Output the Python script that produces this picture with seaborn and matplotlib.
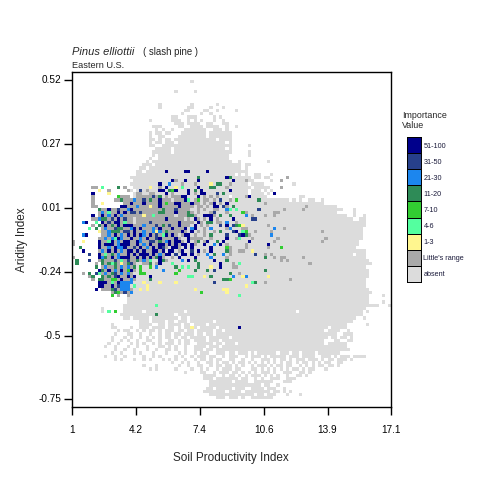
import numpy as np
import seaborn as sns
from matplotlib import pyplot as plt
from matplotlib.colors import ListedColormap

# importance value class of every soil productivity / aridity bin, top row first
# . = no data, a = absent, L = Little's range, 1..7 = importance classes
grid_rows = [
".......... .......... .......... .......a",
"",
"",
".......... .......... .......... ..a..... a",
"",
"",
"",
".......... .......... .......a.. .......a.. .....a",
".......... .......... .......a.. ......aa.. ...a...a",
".......... .......... .......... .....aa... .aa..a.... .a",
".......... .......... .......... ....a..... a..a",
".......... .......... .......... .aa...aaa. ....a.a.",
".......... .......... ....a..... .aaa..a.a. a...a..a",
".......... .......... .......... ..aaa.aaaa ..aa...aa",
".......... .......... .....aaa.. ...aa..aaa a.aaaa..a. .a",
".......... .......... ......a.a. .a...aaaaa aa..aaa.a",
".......... .......... ....a.aa.a a...aaaaaa aa.aaaaaaa",
".......... .......... ....a..aa. ...aaaaaaa aa.aaaaaaa",
".......... .......... ....aa.a.a a.aaaaaaaa aaaaa.aaaa",
".......... .......... ....a.aa.a aa.aaaaaaa aaaaaaaa.a",
".......... .......... ....aa..aa aaaaaaaaaa aaaaaaaaaa .....a",
".......... .......... ......aaaa a.aaaaaaaa aaaaaaaa.a",
".......... .......... .....aaaaa a.aaaaaaaa aaaaaaaaaa .....a",
".......... .......... .....a.aaa aaaaaaaaaa aaaaaaaaa. .....a",
".......... .......... ....a..aaa aaaaaaaaaa aaaaaaaaa",
".......... .......... ...a.aaaaa aaaaaaaaaa aaaaaaaaaa ..a....... .a",
".......... .......... ..aaa.aaaa aaaaaaaaaa aaaaaaaaaa aaa.aa....",
".......... .......... .aa.aaaaaa aaaaaaaaaa aaaaaaaaaa aaa.a",
".......... .......... aa.aaaaaa7 aaaaa77aaa aa7aaaaaaa aaaaa",
".......... .......... aaaaaaaaaa aaaaaaaaaa aaaaaaaaaa a.a.a..aa. ..a",
".......... ........aa aaaaaaaaaa aaaaaaaaa4 aaaaaaaa74 aaaaaa.aa. aa.....L",
".......... .........a aaaaaaaaaa a7Laa7aaa7 aaaaaaaaaa 7aaaLaa... ..a..L",
".......... ........aa aaaaaaa7aa 5aaaLaaaLa aaa1a44aaL aaaaa.aaaa .........a",
"......LL.2 ....4.L..a aaaa1aaLa7 aa1a2aaaa7 aaa44aaaLa aaaaaa.aaa aa...L",
"........1. .L.....La. a6aLaaa77a 437aaa7a4a 7aaaaaaaa7 aaaaa.aaa. a.a",
"......7... .1.......a LLaaLLaaa7 aLaaaa7aLa 77aaa6a4aa aaaaa.aaaa .a.7",
"......L... ....3LLL.a LLLLL6L4aL aLLL77aaa7 aLaLaLaaa. aaaaL7aaaa a......... .aa",
"......L... ...LL4LLL5 LL6L4LL7LL LaLLL72aL3 aLLaLa6aaL a3aaaaaa4a aaaaaaaa.a .a..aa..a",
"......L..1 ......LL7L LL7LLLL7L3 LL77LLL7LL aLaL7aLa7a aaaaaaaaaa Laaaaaaaaa aaaaaaaaa",
"......LL.. .....77LLL 5LLL1LL7LL LLL7LLLLaL LaLa77a6La 4aaaaaaaaa aaaaaaaaaa aaaLaaaaaa aaa",
"........4L L7LL6LL57L LLLLLLLL4L LL6LLLLaaL aLaaLLaa52 a2aaaaaa6a aaaaaaLaaa aaLaaaaaaa aaaaa...a.",
"........L5 L2LL7L7L66 L6LLLLL44L LL7LLL4LaL aaaL6aaaLa aaa3Laaaaa aaaLLaaaaa aaaaaaaaaa aaa.....a",
"......7.L7 L5L7L5LLLL LL1LL2LLLL LLaLLL44La a777La4aa4 aaaa5aLaaa LaaLaaaaaa aaaaaaaaaa aaaaaa..a. .a",
"......LL54 4L6L7L6LLa LLLLLLLLL7 LLLLLaLa7L aLa7aLaaaa 7aaaaa66aa aaaaaaaaaa aaaaaaaaaa aaaaaaaa.. aa",
"...57..2.7 L6L77L2LLa LLLL6LLLLL LLL7LLLLa7 La44aLLa5a aLaaaaaaaa aaaaaaaaaa aaaaaaaaaa aaaaaaaaaa aa",
"......L.4L 7L4L7L777L LL5LLL6L4L 6LL7LLLa7a LaLaaa6a7a 6431aaaaaa aLaaaaaaaa aaaaaaaaaa aaaaaaaaaa aa",
".....2.4.L 5LL644LL57 L7LLL5L7LL L7LLL7a57a aLa5aaaaL5 aaaLLaaaaa aaa5aaLaaa aaaaaaaaaa aaaaaaaaaa a",
"........1L L5444L66L7 LL5LL515L4 LLLL7La7aL aLaaLa4aaa 67a23aaLaa aaLaaaaaaa aaaaaaaaLa aaaaaaaaaa a",
"...57....L L5L7L5L7L7 L75L7L6L27 L7LaL77aLa aLa4aaaa6a aa674Laaaa aa5aaaaaaa aaaaaaaaaa aaaaaaaaaa a",
"........LL 5L5275LL7L L5L7LL67LL LL7Laa7LLL LaaLaaaa7a aL2aaaLaaa aaaaLaaaaa aaaaaaaaaL aaaaaaaaaa a",
"L..1....7L L27L5L77LL 75LL66L4L5 7L77La7aL4 aL7aa4a7aa aaaaa7aaaa aaaLaaaaaa aaaaaaaaLa aaaaaaaaaa",
"L.......7L 777L5777LL 7L5L7LL77L 7L7L77a7La a7aa5a7aLa aaaaLaaaaa a7aaaaaaaa aaaaaaaaaa aaaaaaaaaa",
"..4.....7L L5L7557LL6 L7L5L7L76L a77La7a7aa aaa7aaaa3L aaaaLaaaaa aLaaa3aaaa aaaaaaaaaa aaaaaaaaa",
"...7....L5 L7L7L5L77L 7L7LL77L7a 77aL7aa6a7 aLa7aaaa4L aaLLaa1aaa aaaaaaaaaa aaaaaaaaaa aaaaaaaaaa aa",
".....6..7L 2L4L5LL7L7 L777L7L5L7 7a6a77a7aL aa5a4aa5aL aaaaaaa6aa LaLaaaaaaa aaaaaaaaaa aaaaaaaa.a aa",
"L.......75 4L7L5777LL 7L7L7L47La aLa7aaaa7a aaa5aaaaLa aaaaaaaaaa 4aaLaLLaaa aaLaaaaaaa aaaaaaaaaa aa",
".4...6..L4 LLL6L2L6LL 4L5L2aa74L aaaa5a7a4a aaaa7aaa4a aaaaaaaaaa aaaaaLaLaa aaaaaaaaaa aaaaaaaaaa aaa",
".4.....L.4 L424L1L46L aaLL4aL7aa a2aaaaaaa4 aaaaaa7aaa La2aaaaaaa aaaaaaaaaa aaaaLaaaaa aaaaaaaaaa aaaa",
".......4.L 5LL4L5L5L4 a3aa3a5aaa aa4a2a2aa4 aaa1aa7aaa LLaaaaaaaa aaaaaaaaaa aaaaaaaaaa aaaaaaaaaa aa",
"........74 L7L5L7L37L a3aaaaaa5a aaa3aaaa4a aa4a6aaaaa aaaaaaaaaa 4aaaaaaaaa aaaaaaaaaa aaaaaaaaaa aaa",
"...L.4.62L 5L46L5L5La a33aaaaaaa aa3aaaaaaa aaaaaaaaa4 aaLaaaaaaa aaaaaaaaaa aaaaaaaaaa aaaaaaaaaa aaa",
".....L4..4 L4L67LL7L7 aaaa7aaaaa aaaaaa22aa a1a4aaaaaa 5aa15aaaaa a1aaaaaaaa aaaaaaaaaa aaaaaaaaaa aaa",
"......L.44 LL33L7LL5L aaaa4aaaaa aaaaaaaaaa aaaaaaa443 aaaaaaaaaa aaaaaaaaLa aaaaaaaaaa aaaaaaaaaa aa",
"........77 7L2L75555a aa1aaaa1aa aa1aaaaaaa aaaa6aaaaa aaaaaa24aa Laaaaaaaaa aaaaaaaaaa aaaaaaaaaa aa",
"........77 LL7L6555a2 aaa1aaaaaa aaaaaaaaaa aaaaaaaaaa aaaa1aaaaa aaaaaaaaaa aaaaaaaaaa aaaaaaaaaa aa",
".......7.L LL46L555La a1a1aaaaaa aaaaaaaa1a aaaaaaa11a aaaaaaaaaa aaaaaaaaaa aaaaaaaaaa aaaaaaaaaa aaa",
".......... ..L43L6L5a aaaaaaaaaa aaaaaaaaaa 3aaaaaaa1a aaaaaaaaaa aaaaaaaaaa aaaaaaaaaa aaaaaaaaaa aaaa",
".......... ..3.L..Laa aaaaaaaaaa aaaaaaaaaa aaaaaaaaaa aa2aaaaaaa aaaaaaaaaa aaaaaaaaaa aaaaaaaaaa aaa....a",
".......... .......aaa aaaaaaaaaa aaaaaaaaaa aaaaaaaaaa aaaaaaaaaa aaaaaaaaaa aaaaaaaaaa aaaaaaaaaa aaa",
".......... .......aaa aaaaaaaaaa aaaaaaaaaa aaaaaaaaaa aaaaaaaaaa aaaaaaaaaa aaaaaaaaaa aaaaaaaaaa aaa....a",
".......... ......aaaa aaaaaa2aaa aaaaaaaaaa aaaaaaaaaa aaaaaaaaaa aaaaaaaaaa aaaaaaaaaa aaaaaaaaaa aaaaaa...a",
".........a ......aaaa aaaaaaaaaa aaaaaaaaaa aaaaaaaaaa aaaaaaaaaa aaaaaaaaaa aaaaaaaaaa aaaaaaaaaa aa",
".........a .2.3..aaaa aa.aaaaaaa aaaaa.aaaa aaaaaaaaaa aaaaaaaaaa aaaaaaaaaa .aaaaaaaaa aaaaaaaaaa a.a",
".......... .....aaaaa aaaaaa4aaa aa.aaaaaaa aaaaaaaaaa aaaaaaaaaa aaaaaaaaaa aaaaaaaaaa aaaaaaaaaa a",
".......... ......aa.a aaaa.aaaaa aaa.aa.aaa aaaaaaaaaa aaaaaaaaaa aaaaaaaaaa aaaaaaaaaa aaaaaaaaa. .a",
".......... .......... .aaa.aaaa. aa.aaa.aaa aaaa.aaaaa aaaaaaaaaa aaaaaaaaaa aaaaaaaaaa aaaaaaaa",
".......... ..a....... .aaaa..aa. aaaa.aa.aa aa.aaaaaaa aaaaaaaaaa aaaaaaaaaa aaaaaaaaaa aaaaaa.... ..a",
".......... ..aa....a. .aaa.aaaa. aa.a.aa1a. aaaaa.aaaa aa7aaaaaaa aaaaaaaaaa aaaaaaaaaa .aaaaa",
".......... ....a.aa.. a.a.aa.a.a aa.aa.aa.a aaaa.aa.aa aaaaaaaaaa aaaaaaaaaa aaaaaaaaa. aaaa..a",
".......... ...a...aa. .a..a..a.a a.aa.aaa.a a.aa.aaaaa aaaaaaaaaa aaaaaaaaaa aaaaaaaaaa aaa..aaa",
".......... ..a...a.a. .a.a.a.a.a a.a.aa.aaa aa.aaaaaa. aaaaaaaaaa aaaaaaaaaa aaaaaaaaaa .aa.aa.a",
".......... ..a..a.a.. a..aa..a.. aa.a.aa.aa aa.aaa.aaa aaaaaaaaaa aaaaaaaaaa aaaaaaaaa. ..aa..aa",
".......... .a..a...a. a.a..a.a.a aa.a.aa..a aaaa.aa.aa a.aaaaaaaa aaaaaaaaaa aaaaaaaaa. aaaaaa",
".......... a..a...a.. a..a...aa. a.a..a..aa aa.aaa.aaa aaaaaaaaaa aaaaaaaaaa aaaaaaaaaa aaaaaa",
".......... ...a..a..a ...a..a..a a.a..a..aa a.aa.aaaaa aaaaaaaaaa aaaaaaaaaa aaaaaaaaaa aaaaaaa",
".......... ..a..a...a .a...a...a ...a.a..a. aaa..aaa.a a.aaa.a.aa aaaa.aaa.a a.aaaa.aaa aaaa",
".......... a..a..a... ..a..a.a.. ..a.a..a.a aa.aa..a.a aa..a.aaa. a.aaaaa.aa a.aaaa..aa a.a.aaa.aa aa",
".......... ...a.a...a ..a.a...a. a.a..a..a. aa.a.aa..a a..a..a..a aa.a.aa.a. aaa.aaa.a. aa.aaa.a",
".......... .......... .......... .a..a.a..a ..aa.a.aa. a.aa.a.a.a .a.a.a.aa. a.aa.a.a.a a..aa.",
".......... .......... ..a...a... ...a..a..a a..a.aa.aa .a.a..a.aa a.a.aa.aa. .a.a.a.aa. aa.a",
".......... .......... ....a.a... ..a....a.. a.a..a.aaa .aa...aa.a .a.a.a.a.a a.a.aa...a",
".......... .......... .......... .....a.... aa..a.aaa. aa.a.a.a.a aa.a..aaa. .aa.a",
".......... .......... .......... .......... .aaaa..a.a a.a.a.aaa. a.a.a..a.. aa.a",
".......... .......... .......... .......... .aaa.aaaaa aa.aa..a.a ..aaa..aaa",
".......... .......... .......... .......... ...aaaaaaa .aaaa..aaa aaa...aaa.",
".......... .......... .......... .......... ...aaaaaaa aaaaaaaaa. aa..a.....",
".......... .......... .......... .......... ..aa.aaaaa .aaa..aaaa .aaa..a",
".......... .......... .......... .......... .aaaaaaa.a aaa.aaaaaa aa.aa.a.a",
".......... .......... .......... .......... ...aaaaaaa aaaaaaa.aa .aaa...a.. .a",
".......... .......... .......... .......... .....aaa.a aa.a..aaaa aaa",
]

class_labels = ['51-100', '31-50', '21-30', '11-20', '7-10', '4-6', '1-3', "Little's range", 'absent']
class_colors = ['#00008B', '#27408B', '#1C86EE', '#2E8B57', '#32CD32', '#54FF9F', '#FFF68F', '#A9A9A9', '#DCDCDC']
class_chars = '7654321La'
x_ticklabels = ['1', '4.2', '7.4', '10.6', '13.9', '17.1']
y_ticklabels = ['0.52', '0.27', '0.01', '-0.24', '-0.5', '-0.75']

sns.set_style('white')
plt.rcParams['font.family'] = ['Liberation Sans', 'DejaVu Sans']

# turn the text rows into a numeric matrix, nan where there is no bin
grid = np.full((100, 100), np.nan)
for r, row in enumerate(grid_rows):
    row = row.replace(' ', '').ljust(100, '.')[:100]
    for c, ch in enumerate(row):
        if ch != '.':
            grid[r, c] = class_chars.index(ch)

cmap = ListedColormap(class_colors)
fig = plt.figure(figsize=(4.8, 4.8), dpi=100)

def fx(px): return px / 480
def fy(py): return 1 - py / 480

ax = fig.add_axes([fx(72.3), fy(407.3), fx(319), 335 / 480])
sns.heatmap(grid, mask=np.isnan(grid), cmap=cmap, vmin=-0.5, vmax=8.5, cbar=False, ax=ax, square=False)
ax.set_xlim(0, 100)
ax.set_ylim(102.5, -2.5)
for s in ax.spines.values():
    s.set_visible(True)
    s.set_color('black')
    s.set_linewidth(1.0)
ax.set_xticks(np.arange(0, 101, 20))
ax.set_xticklabels(x_ticklabels, rotation=0)
ax.set_yticks(np.arange(0, 101, 20))
ax.set_yticklabels(y_ticklabels, rotation=0)
ax.tick_params(axis='x', bottom=True, length=6, width=1.0, color='black', labelsize=7.2, pad=7, labelcolor='black')
ax.tick_params(axis='y', left=True, length=6, width=1.0, color='black', labelsize=7.2, pad=2, labelcolor='black')

fig.text(fx(231), fy(458), 'Soil Productivity Index', ha='center', va='center', fontsize=8.5)
fig.text(fx(22), fy(240), 'Aridity Index', rotation=90, ha='center', va='center', fontsize=8.5)
fig.text(fx(72), fy(52), 'Pinus elliottii', style='italic', ha='left', va='center', fontsize=8.0)
fig.text(fx(143), fy(52), '( slash pine )', ha='left', va='center', fontsize=6.9)
fig.text(fx(72), fy(65), 'Eastern U.S.', ha='left', va='center', fontsize=6.6)

# legend drawn as a one column heatmap
leg = fig.add_axes([fx(407.3), fy(281.7), fx(13.4), 144.4 / 480])
sns.heatmap(np.arange(9).reshape(9, 1), cmap=cmap, vmin=-0.5, vmax=8.5, cbar=False, ax=leg,
            linewidths=0.6, linecolor='black')
for s in leg.spines.values():
    s.set_visible(True)
    s.set_color('black')
    s.set_linewidth(0.7)
leg.set_xticks([])
leg.yaxis.tick_right()
leg.set_yticks(np.arange(9) + 0.5)
leg.set_yticklabels(class_labels, rotation=0)
leg.tick_params(axis='y', right=False, length=0, labelsize=5.2, pad=2, labelcolor='#1a1a3a')
fig.text(fx(402), fy(115), 'Importance', ha='left', va='center', fontsize=6.4)
fig.text(fx(402), fy(126), 'Value', ha='left', va='center', fontsize=6.4)

plt.savefig('out.png', dpi=100)
